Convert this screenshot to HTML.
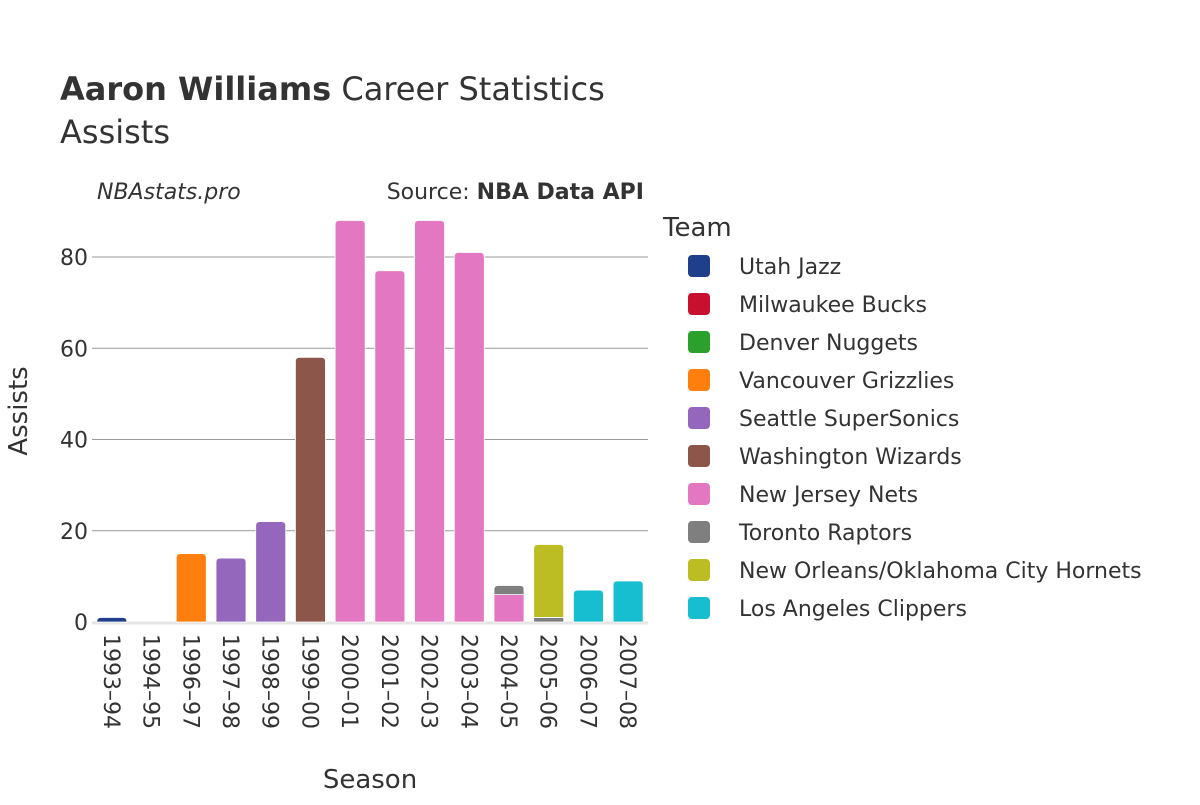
<!DOCTYPE html>
<html><head><meta charset="utf-8"><style>
body{margin:0;background:#fff;font-family:"Liberation Sans","DejaVu Sans",sans-serif;}
svg text{fill:#333;}
</style></head><body>
<svg id="chart" width="1200" height="800" xmlns="http://www.w3.org/2000/svg" font-family="'DejaVu Sans','Liberation Sans',sans-serif">
<text x="60" y="100" font-size="32"><tspan font-weight="bold">Aaron Williams</tspan> Career Statistics</text>
<text x="60" y="143" font-size="32">Assists</text>
<text x="97" y="199" font-size="22" font-style="italic">NBAstats.pro</text>
<text x="644" y="199" font-size="22" text-anchor="end">Source: <tspan font-weight="bold">NBA Data API</tspan></text>
<g id="grid"></g>
<g id="bars"></g>
<g id="xticks"></g>
<text transform="translate(27,411) rotate(-90)" font-size="26" text-anchor="middle">Assists</text>
<text x="370" y="788" font-size="26" text-anchor="middle">Season</text>
<text x="663" y="236" font-size="26">Team</text>
<g id="legend"></g>
</svg>
<script>
const seasons=["1993–94","1994–95","1996–97","1997–98","1998–99","1999–00","2000–01","2001–02","2002–03","2003–04","2004–05","2005–06","2006–07","2007–08"];
const teams=["Utah Jazz","Milwaukee Bucks","Denver Nuggets","Vancouver Grizzlies","Seattle SuperSonics","Washington Wizards","New Jersey Nets","Toronto Raptors","New Orleans/Oklahoma City Hornets","Los Angeles Clippers"];
const colors=["#1f3f8a","#c8102e","#2ca02c","#ff7f0e","#9467bd","#8c564b","#e377c2","#7f7f7f","#bcbd22","#17becf"];
// segments: [seasonIndex, teamIndex, value] stacked in order
const segments=[[0,0,1],[1,1,0],[2,3,15],[3,4,14],[4,4,22],[5,5,58],[6,6,88],[7,6,77],[8,6,88],[9,6,81],[10,6,6],[10,7,2],[11,7,1],[11,8,16],[12,9,7],[13,9,9]];
const yTicks=[0,20,40,60,80];
const NS="http://www.w3.org/2000/svg";
const x0=92,x1=648,yZero=622,yTop=257,vTop=80;
const y=v=>yZero-(v/vTop)*(yZero-yTop);
const step=(x1-x0)/seasons.length;
const xc=i=>x0+step*(i+0.5);
const bw=30;
function mk(tag,attrs,parent){const e=document.createElementNS(NS,tag);for(const k in attrs)e.setAttribute(k,attrs[k]);parent.appendChild(e);return e;}
const grid=document.getElementById('grid');
yTicks.forEach(t=>{
  if(t>0){const l=mk('line',{x1:x0,x2:x1,y1:y(t),y2:y(t),stroke:'#999','stroke-width':1},grid);
  
  }
  const tx=mk('text',{x:x0-4,y:y(t)+8,'font-size':22,'text-anchor':'end'},grid);
  tx.textContent=t;
  
  
});
const zl=mk('line',{x1:x0,x2:x1,y1:yZero+1,y2:yZero+1,stroke:'#e5e5e5','stroke-width':3},grid);


const bars=document.getElementById('bars');
const base=seasons.map(()=>0);
const segCount=seasons.map(()=>0);
segments.forEach(s=>segCount[s[0]]++);
const seen=seasons.map(()=>0);
segments.forEach(([si,ti,v])=>{
  seen[si]++;
  const top=seen[si]===segCount[si];
  const yb=y(base[si]),yt=y(base[si]+v);base[si]+=v;
  const h=Math.max(yb-yt,0.01);const xl=xc(si)-bw/2;const r=top?Math.min(4,h):0;
  const d=`M${xl},${yb}L${xl},${yt+r}Q${xl},${yt} ${xl+r},${yt}L${xl+bw-r},${yt}Q${xl+bw},${yt} ${xl+bw},${yt+r}L${xl+bw},${yb}Z`;
  const p=mk('path',{d:d,fill:colors[ti],stroke:'#fff','stroke-width':v>0?0.8:0},bars);
  
  
});
const xt=document.getElementById('xticks');
seasons.forEach((s,i)=>{
  const t=mk('text',{transform:`translate(${xc(i)-8},634) rotate(90)`,'font-size':22},xt);
  t.textContent=s;
  
  
});
const lg=document.getElementById('legend');
teams.forEach((t,i)=>{
  const yy=266+i*38;
  const r=mk('rect',{x:688,y:yy-11,width:22,height:22,rx:4,fill:colors[i]},lg);
  
  
  const tx=mk('text',{x:739,y:yy+8,'font-size':22},lg);
  tx.textContent=t;
  
  
});
</script>
</body></html>
